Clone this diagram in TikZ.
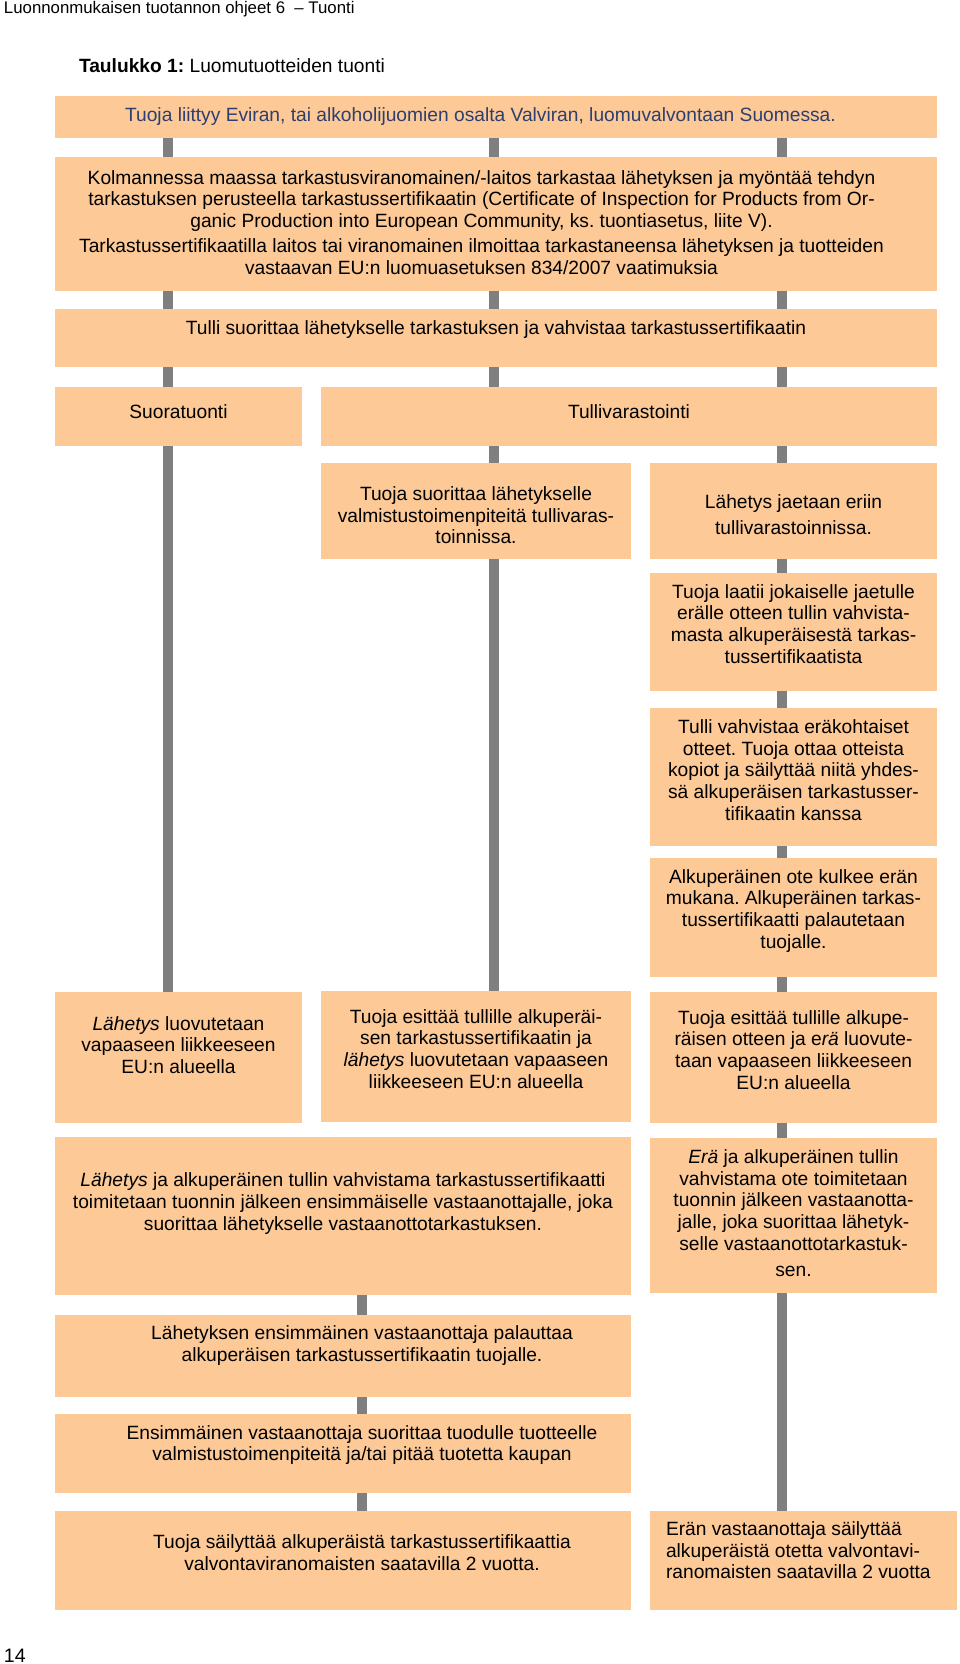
\documentclass[tikz,border=0pt]{standalone}
\usepackage{fontspec}
\setmainfont{Liberation Sans}
\frenchspacing
\definecolor{boxfill}{RGB}{252,201,151}
\definecolor{bargray}{RGB}{127,127,127}
\definecolor{bluetxt}{RGB}{46,62,110}
\newcommand{\fs}{\fontsize{19.2}{21.7}\selectfont\lineskiplimit=-100pt\relax}
\newcommand{\fst}{\rule{0pt}{18pt}}
\begin{document}
\begin{tikzpicture}[x=1pt,y=-1pt,
  box/.style={fill=boxfill,draw=none,inner sep=0pt,outer sep=0pt,anchor=north west},
  txt/.style={inner sep=0pt,outer sep=0pt,anchor=north,align=center,font=\fs},
  bar/.style={draw=bargray,line width=10pt},
  plain/.style={inner sep=0pt,outer sep=0pt,anchor=base west}]
\useasboundingbox (0,0) rectangle (960,1664);
% column coordinates
\coordinate (c1) at (168,0);
\coordinate (c2) at (494,0);
\coordinate (c3) at (782,0);
\coordinate (c4) at (362,0);
% header
\node[plain] (hdr) at (4,13.5) {\fontsize{16.8}{20}\selectfont\frenchspacing Luonnonmukaisen tuotannon ohjeet 6 \ – Tuonti};
\node[plain] (title) at (79,72.5) {\fontsize{19.2}{22}\selectfont\frenchspacing\textbf{Taulukko 1:} Luomutuotteiden tuonti};
\node[plain] (pnum) at (4,1662) {\fontsize{19.5}{22}\selectfont 14};
% boxes
\node[box,minimum width=882pt,minimum height=42pt] (b1) at (55,96) {};
\node[box,minimum width=882pt,minimum height=134pt] (b2) at (55,157) {};
\node[box,minimum width=882pt,minimum height=58pt] (b3) at (55,309) {};
\node[box,minimum width=247pt,minimum height=59pt] (b4) at (55,387) {};
\node[box,minimum width=616pt,minimum height=59pt] (b5) at (321,387) {};
\node[box,minimum width=310pt,minimum height=96pt] (b6) at (321,463) {};
\node[box,minimum width=287pt,minimum height=96pt] (b7) at (650,463) {};
\node[box,minimum width=287pt,minimum height=118pt] (b8) at (650,573) {};
\node[box,minimum width=287pt,minimum height=138pt] (b9) at (650,708) {};
\node[box,minimum width=287pt,minimum height=119pt] (b10) at (650,858) {};
\node[box,minimum width=247pt,minimum height=131pt] (b11) at (55,992) {};
\node[box,minimum width=310pt,minimum height=131pt] (b12) at (321,991) {};
\node[box,minimum width=287pt,minimum height=131pt] (b13) at (650,992) {};
\node[box,minimum width=576pt,minimum height=158pt] (b14) at (55,1137) {};
\node[box,minimum width=287pt,minimum height=155pt] (b15) at (650,1138) {};
\node[box,minimum width=576pt,minimum height=82pt] (b16) at (55,1315) {};
\node[box,minimum width=576pt,minimum height=79pt] (b17) at (55,1414) {};
\node[box,minimum width=576pt,minimum height=99pt] (b18) at (55,1511) {};
\node[box,minimum width=307pt,minimum height=99pt] (b19) at (650,1511) {};
% connectors
\foreach \c in {c1,c2,c3}{
  \draw[bar] (b1.south -| \c) -- (b2.north -| \c);
  \draw[bar] (b2.south -| \c) -- (b3.north -| \c);
}
\draw[bar] (b3.south -| c1) -- (b4.north -| c1);
\draw[bar] (b3.south -| c2) -- (b5.north -| c2);
\draw[bar] (b3.south -| c3) -- (b5.north -| c3);
\draw[bar] (b4.south -| c1) -- (b11.north -| c1);
\draw[bar] (b5.south -| c2) -- (b6.north -| c2);
\draw[bar] (b6.south -| c2) -- (b12.north -| c2);
\draw[bar] (b5.south -| c3) -- (b7.north -| c3);
\draw[bar] (b7.south -| c3) -- (b8.north -| c3);
\draw[bar] (b8.south -| c3) -- (b9.north -| c3);
\draw[bar] (b9.south -| c3) -- (b10.north -| c3);
\draw[bar] (b10.south -| c3) -- (b13.north -| c3);
\draw[bar] (b13.south -| c3) -- (b15.north -| c3);
\draw[bar] (b15.south -| c3) -- (b19.north -| c3);
\draw[bar] (b14.south -| c4) -- (b16.north -| c4);
\draw[bar] (b16.south -| c4) -- (b17.north -| c4);
\draw[bar] (b17.south -| c4) -- (b18.north -| c4);
% texts
\node[txt,text=bluetxt] (t1) at (480.5,104) {\fst Tuoja liittyy Eviran, tai alkoholijuomien osalta Valviran, luomuvalvontaan Suomessa.};
\node[txt] (t2) at (481.5,166) {\fst Kolmannessa maassa tarkastusviranomainen/-laitos tarkastaa lähetyksen ja myöntää tehdyn\\
tarkastuksen perusteella tarkastussertifikaatin (Certificate of Inspection for Products from Or-\\
ganic Production into European Community, ks. tuontiasetus, liite V).\\[3.5pt]
Tarkastussertifikaatilla laitos tai viranomainen ilmoittaa tarkastaneensa lähetyksen ja tuotteiden\\
vastaavan EU:n luomuasetuksen 834/2007 vaatimuksia};
\node[txt] (t3) at (496,316) {\fst Tulli suorittaa lähetykselle tarkastuksen ja vahvistaa tarkastussertifikaatin};
\node[txt] (t4) at (178.5,400) {\fst Suoratuonti};
\node[txt] (t5) at (629,400) {\fst Tullivarastointi};
\node[txt] (t6) at (476,482.5) {\fst Tuoja suorittaa lähetykselle\\valmistustoimenpiteitä tullivaras-\\toinnissa.};
\node[txt] (t7) at (793.5,490) {\fst Lähetys jaetaan eriin\\[4.3pt]tullivarastoinnissa.};
\node[txt] (t8) at (793.5,580) {\fst Tuoja laatii jokaiselle jaetulle\\erälle otteen tullin vahvista-\\masta alkuperäisestä tarkas-\\tussertifikaatista};
\node[txt] (t9) at (793.5,715.5) {\fst Tulli vahvistaa eräkohtaiset\\otteet. Tuoja ottaa otteista\\kopiot ja säilyttää niitä yhdes-\\sä alkuperäisen tarkastusser-\\tifikaatin kanssa};
\node[txt] (t10) at (793.5,865) {\fst Alkuperäinen ote kulkee erän\\mukana. Alkuperäinen tarkas-\\tussertifikaatti palautetaan\\tuojalle.};
\node[txt] (t11) at (178.5,1012) {\fst\textit{Lähetys} luovutetaan\\vapaaseen liikkeeseen\\EU:n alueella};
\node[txt] (t12) at (476,1005) {\fst Tuoja esittää tullille alkuperäi-\\sen tarkastussertifikaatin ja\\\textit{lähetys} luovutetaan vapaaseen\\liikkeeseen EU:n alueella};
\node[txt] (t13) at (793.5,1006) {\fst Tuoja esittää tullille alkupe-\\räisen otteen ja e\textit{rä} luovute-\\taan vapaaseen liikkeeseen\\EU:n alueella};
\node[txt] (t14) at (343,1168.7) {\fst\textit{Lähetys} ja alkuperäinen tullin vahvistama tarkastussertifikaatti\\toimitetaan tuonnin jälkeen ensimmäiselle vastaanottajalle, joka\\suorittaa lähetykselle vastaanottotarkastuksen.};
\node[txt] (t15) at (793.5,1145.5) {\fst\textit{Erä} ja alkuperäinen tullin\\vahvistama ote toimitetaan\\tuonnin jälkeen vastaanotta-\\jalle, joka suorittaa lähetyk-\\selle vastaanottotarkastuk-\\[4pt]sen.};
\node[txt] (t16) at (362,1321.7) {\fst Lähetyksen ensimmäinen vastaanottaja palauttaa\\alkuperäisen tarkastussertifikaatin tuojalle.};
\node[txt] (t17) at (362,1421) {\fst Ensimmäinen vastaanottaja suorittaa tuodulle tuotteelle\\valmistustoimenpiteitä ja/tai pitää tuotetta kaupan};
\node[txt] (t18) at (362,1530.3) {\fst Tuoja säilyttää alkuperäistä tarkastussertifikaattia\\valvontaviranomaisten saatavilla 2 vuotta.};
\node[txt,anchor=north west,align=left] (t19) at (666,1517.5) {\fst Erän vastaanottaja säilyttää\\alkuperäistä otetta valvontavi-\\ranomaisten saatavilla 2 vuotta};
\end{tikzpicture}
\end{document}
